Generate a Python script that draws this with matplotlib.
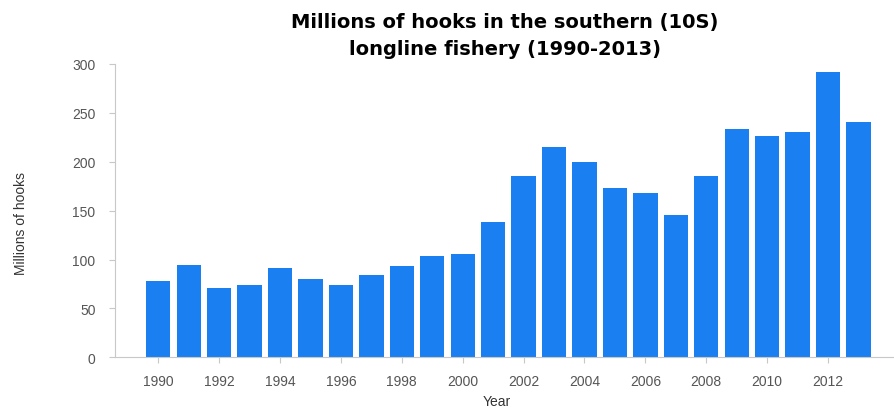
import numpy as np
import matplotlib.pyplot as plt

plt.rcParams['font.family'] = ['Liberation Sans', 'DejaVu Sans']

years = np.arange(1990, 2014)
hooks = [78, 94, 71, 74, 91, 80, 74, 84, 93, 104, 106, 138,
         185, 215, 200, 173, 168, 146, 185, 234, 226, 230, 292, 241]
tick_years = list(range(1990, 2013, 2))

fig = plt.figure(figsize=(8.95, 4.14), dpi=100)
ax = fig.add_axes([0.1285, 0.1345, 0.8715, 0.7085])

ax.bar(years, hooks, width=0.8, color='#1a7ff0')

ax.set_xlim(1988.58, 2014.2)
ax.set_ylim(0, 300)
ax.set_yticks(range(0, 301, 50))
ax.set_xticks(tick_years)

for s in ['top', 'right']:
    ax.spines[s].set_visible(False)
for s in ['left', 'bottom']:
    ax.spines[s].set_color('#c8c8c8')
ax.tick_params(colors='#c8c8c8', labelcolor='#555555', labelsize=10, length=4, pad=10)
ax.tick_params(axis='x', pad=8)

ax.set_xlabel('Year', fontsize=10, color='#333333', va='center')
ax.xaxis.set_label_coords(0.49, -0.15)
ax.set_ylabel('Millions of hooks', fontsize=10, color='#333333', va='center')
ax.yaxis.set_label_coords(-0.12, 0.46)
ax.set_title('Millions of hooks in the southern (10S)\nlongline fishery (1990-2013)',
             fontsize=14, fontweight='bold', family='DejaVu Sans',
             linespacing=1.55, pad=7)

fig.savefig('out.png', dpi=100)
